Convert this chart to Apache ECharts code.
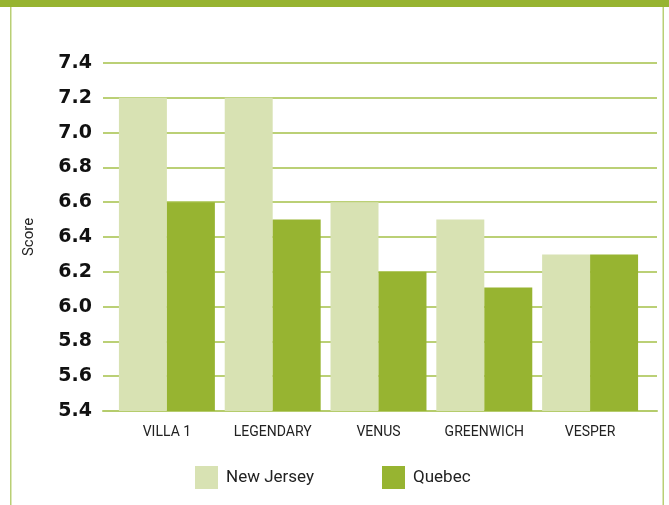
<!DOCTYPE html>
<html><head><meta charset="utf-8">
<script src="https://cdn.jsdelivr.net/npm/echarts@6/dist/echarts.min.js"></script>
<style>html,body{margin:0;padding:0;background:#fff}#c{width:669px;height:505px}</style>
</head><body><div id="c"></div>
<script>
const categories = ['VILLA 1','LEGENDARY','VENUS','GREENWICH','VESPER'];
const newJersey = [7.2, 7.2, 6.6, 6.5, 6.3];
const quebec = [6.6, 6.5, 6.2, 6.11, 6.3];
const seriesNames = ['New Jersey','Quebec'];
const yMin = 5.4, yMax = 7.4, yStep = 0.2;

const chart = echarts.init(document.getElementById('c'));
chart.setOption({
  animation:false,
  graphic:[
    {type:'rect',shape:{x:0,y:0,width:669,height:7},style:{fill:'#97b431'}},
    {type:'rect',shape:{x:10,y:7,width:1.5,height:498},style:{fill:'#b9cf75'}},
    {type:'rect',shape:{x:662.5,y:7,width:1.5,height:498},style:{fill:'#b9cf75'}}
  ],
  grid:[
    {left:103,right:12,top:63,bottom:94},
    {left:114,right:26,top:63,bottom:94}
  ],
  legend:{
    data:seriesNames,bottom:11,left:190,itemWidth:23,itemHeight:23,itemGap:68,
    icon:'rect',
    textStyle:{fontFamily:'Roboto',fontSize:17,color:'#222',padding:[0,0,0,3]}
  },
  xAxis:[
    {gridIndex:0,type:'category',data:categories,
     axisLine:{lineStyle:{color:'#b5cc6c',width:2}},
     axisTick:{show:false},axisLabel:{show:false}},
    {gridIndex:1,type:'category',data:categories,
     axisLine:{show:false},axisTick:{show:false},
     axisLabel:{fontFamily:'Roboto',fontSize:14,color:'#222',margin:14}}
  ],
  yAxis:[
    {gridIndex:0,type:'value',min:yMin,max:yMax,interval:yStep,
     name:'Score',nameLocation:'middle',nameGap:66,nameRotate:90,
     nameTextStyle:{fontFamily:'Roboto',fontSize:15,color:'#222'},
     axisLine:{show:false},axisTick:{show:false},
     axisLabel:{fontFamily:'DejaVu Sans',fontWeight:'bold',fontSize:19,color:'#111',margin:11,
       formatter:v=>Number(v).toFixed(1)},
     splitLine:{lineStyle:{color:'#a4c148',width:1.5}}},
    {gridIndex:1,type:'value',min:yMin,max:yMax,interval:yStep,
     axisLine:{show:false},axisTick:{show:false},axisLabel:{show:false},splitLine:{show:false}}
  ],
  series:[
    {name:seriesNames[0],type:'bar',xAxisIndex:1,yAxisIndex:1,data:newJersey,barGap:'0%',barCategoryGap:'9.3%',itemStyle:{color:'#d8e2b3'}},
    {name:seriesNames[1],type:'bar',xAxisIndex:1,yAxisIndex:1,data:quebec,barGap:'0%',barCategoryGap:'9.3%',itemStyle:{color:'#97b431'}}
  ]
});
</script></body></html>
